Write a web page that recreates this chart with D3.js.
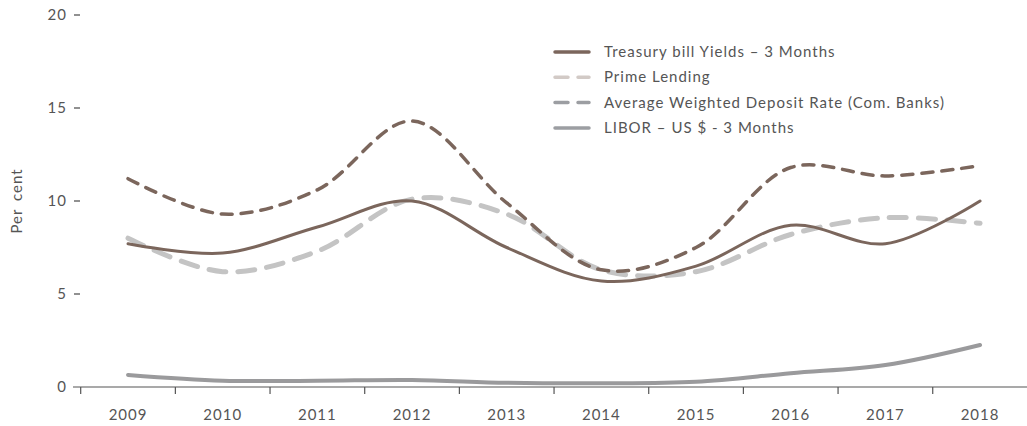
<!DOCTYPE html>
<html>
<head>
<meta charset="utf-8">
<script src="https://cdn.jsdelivr.net/npm/d3@7"></script>
<style>
  body { margin: 0; background: #fff; }
  svg text { font-family: "Lato", "DejaVu Sans", sans-serif; fill: #555; letter-spacing: 1px; }
</style>
</head>
<body>
<svg id="chart" width="1027" height="426"></svg>
<script>
const years = ["2009", "2010", "2011", "2012", "2013", "2014", "2015", "2016", "2017", "2018"]
const treasury = [7.7, 7.2, 8.6, 10.0, 7.5, 5.7, 6.5, 8.7, 7.7, 10.0]
const prime = [8.0, 6.2, 7.3, 10.1, 9.3, 6.3, 6.2, 8.2, 9.1, 8.8]
const deposit = [11.2, 9.3, 10.6, 14.3, 9.9, 6.3, 7.5, 11.8, 11.35, 11.9]
const libor = [0.65, 0.34, 0.34, 0.38, 0.23, 0.2, 0.28, 0.74, 1.18, 2.26]
const yTicks = [0, 5, 10, 15, 20]

const series = [
    {name: "Treasury bill Yields \u2013 3 Months", values: treasury, color: "#7b665c", width: 3, dash: null, legendColor: "#7b665c", legendDash: null},
    {name: "Prime Lending", values: prime, color: "#c4c4c4", width: 5, dash: "17,12", legendColor: "#d2cac6", legendDash: "13,10"},
    {name: "Average Weighted Deposit Rate (Com. Banks)", values: deposit, color: "#7b665c", width: 3.5, dash: "11,9", legendColor: "#9c9ea2", legendDash: "13,10"},
    {name: "LIBOR \u2013 US $ - 3 Months", values: libor, color: "#9a9a9c", width: 4, dash: null, legendColor: "#9c9ea2", legendDash: null}
]

const svg = d3.select("#chart")

const x = d3.scaleBand()
    .domain(years)
    .range([80.7, 1027.4])

const y = d3.scaleLinear()
    .domain([0, 20])
    .range([387, 15])

// x axis //
svg.append("line")
    .attr("x1", 73).attr("x2", 1027)
    .attr("y1", y(0)).attr("y2", y(0))
    .attr("stroke", "#555").attr("stroke-width", 1.2)

const bounds = years.map(d => x(d))
svg.selectAll(".xtick")
    .data(bounds)
    .enter().append("line")
    .attr("x1", d => d).attr("x2", d => d)
    .attr("y1", y(0)).attr("y2", y(0) + 7)
    .attr("stroke", "#555").attr("stroke-width", 1.2)

svg.selectAll(".xlabel")
    .data(years)
    .enter().append("text")
    .attr("x", d => x(d) + x.bandwidth() / 2)
    .attr("y", 420)
    .attr("text-anchor", "middle")
    .attr("font-size", 15)
    .text(d => d)

// y axis //
svg.selectAll(".ytick")
    .data(yTicks.filter(d => d > 0))
    .enter().append("line")
    .attr("x1", 74).attr("x2", 80)
    .attr("y1", d => y(d)).attr("y2", d => y(d))
    .attr("stroke", "#555").attr("stroke-width", 1.3)

svg.selectAll(".ylabel")
    .data(yTicks)
    .enter().append("text")
    .attr("x", 67)
    .attr("y", d => y(d) + 5)
    .attr("text-anchor", "end")
    .attr("font-size", 15)
    .text(d => d)

svg.append("text")
    .attr("transform", "translate(22," + y(10) + ") rotate(-90)")
    .attr("text-anchor", "middle")
    .attr("font-size", 15)
    .attr("word-spacing", 3)
    .text("Per cent")

// lines //
const line = d3.line()
    .x((d, i) => x(years[i]) + x.bandwidth() / 2)
    .y(d => y(d))
    .curve(d3.curveCatmullRom.alpha(0.5))

const order = [3, 1, 0, 2]
order.forEach(k => {
    const s = series[k]
    svg.append("path")
        .attr("d", line(s.values))
        .attr("fill", "none")
        .attr("stroke", s.color)
        .attr("stroke-width", s.width)
        .attr("stroke-linecap", "round")
        .attr("stroke-dasharray", s.dash)
})

// legend //
const legend = svg.append("g")
series.forEach((s, i) => {
    const ly = 52 + i * 25.3
    legend.append("line")
        .attr("x1", 555).attr("x2", 589)
        .attr("y1", ly).attr("y2", ly)
        .attr("stroke", s.legendColor)
        .attr("stroke-width", 3.5)
        .attr("stroke-linecap", "round")
        .attr("stroke-dasharray", s.legendDash)
    legend.append("text")
        .attr("x", 604)
        .attr("y", ly + 5)
        .attr("font-size", 15)
        .text(s.name)
})
</script>
</body>
</html>
